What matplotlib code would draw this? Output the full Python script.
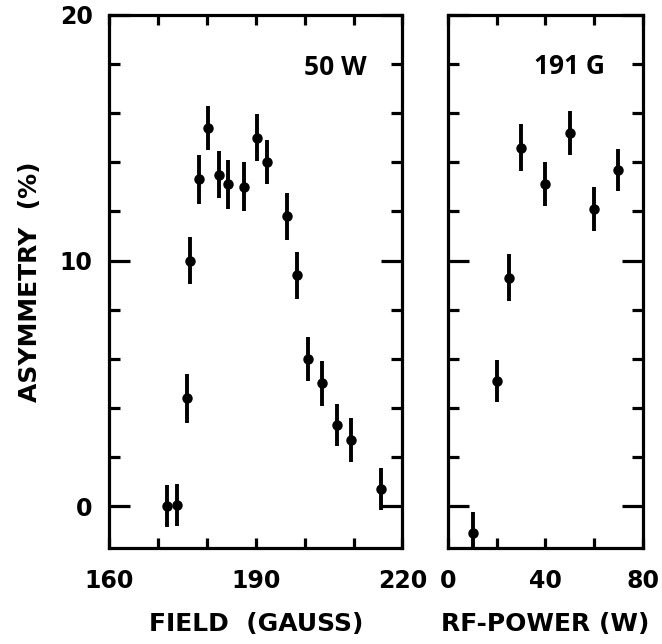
import numpy as np
import matplotlib
matplotlib.use("Agg")
import matplotlib.pyplot as plt
from matplotlib.ticker import FixedLocator

plt.rcParams['font.family'] = ['DejaVu Sans']
plt.rcParams['font.weight'] = 'bold'

# left panel: asymmetry vs field at 50 W
field = np.array([171.9, 173.8, 175.9, 176.5, 178.4, 180.3, 182.4, 184.2, 187.5,
                  190.3, 192.3, 196.4, 198.4, 200.6, 203.5, 206.6, 209.5, 215.6])
asym_field = np.array([0.0, 0.05, 4.4, 10.0, 13.3, 15.4, 13.5, 13.1, 13.0,
                       15.0, 14.0, 11.8, 9.4, 6.0, 5.0, 3.3, 2.7, 0.7])
err_field = np.array([0.85, 0.85, 1.0, 0.95, 1.0, 0.9, 0.95, 1.0, 1.0,
                      0.95, 0.9, 0.95, 0.95, 0.9, 0.9, 0.85, 0.9, 0.85])

# right panel: asymmetry vs rf-power at 191 G
power = np.array([10, 20, 25, 30, 40, 50, 60, 70])
asym_power = np.array([-1.1, 5.1, 9.3, 14.6, 13.1, 15.2, 12.1, 13.7])
err_power = np.array([0.85, 0.85, 0.95, 0.95, 0.9, 0.9, 0.9, 0.85])

fig = plt.figure(figsize=(6.62, 6.44), dpi=100)
ax1 = fig.add_axes([0.165, 0.149, 0.443, 0.828])
ax2 = fig.add_axes([0.677, 0.149, 0.294, 0.828])

for ax in (ax1, ax2):
    for s in ax.spines.values():
        s.set_linewidth(2.3)
    ax.set_ylim(-1.7, 20)
    ax.yaxis.set_major_locator(FixedLocator([0, 10, 20]))
    ax.yaxis.set_minor_locator(FixedLocator([2, 4, 6, 8, 12, 14, 16, 18]))
    ax.tick_params(axis='both', which='both', direction='in', width=2.3,
                   top=True, right=True, labelsize=17)
    ax.tick_params(axis='y', which='major', length=15)
    ax.tick_params(axis='y', which='minor', length=8)
    ax.tick_params(axis='x', which='both', length=7)

ax1.errorbar(field, asym_field, yerr=err_field, fmt='o', color='black',
             markersize=6.5, elinewidth=2.8, capsize=0)
ax1.set_xlim(160, 220)
ax1.xaxis.set_major_locator(FixedLocator([160, 190, 220]))
ax1.xaxis.set_minor_locator(FixedLocator([170, 180, 200, 210]))
ax1.set_xticklabels(['160', '190', '220'], fontweight='bold')
ax1.set_yticklabels(['0', '10', '20'], fontweight='bold')
ax1.tick_params(axis='x', pad=15)
ax1.tick_params(axis='y', pad=12)
ax1.set_xlabel('FIELD  (GAUSS)', fontsize=18, fontweight='bold', labelpad=14)
ax1.set_ylabel('ASYMMETRY  (%)', fontsize=18, fontweight='bold', labelpad=13)
ax1.text(0.878, 0.902, '50 W', transform=ax1.transAxes, ha='right', va='center',
         fontsize=19, fontweight='bold', family='Open Sans')

ax2.errorbar(power, asym_power, yerr=err_power, fmt='o', color='black',
             markersize=6.5, elinewidth=2.8, capsize=0)
ax2.set_xlim(0, 80)
ax2.xaxis.set_major_locator(FixedLocator([0, 20, 40, 60, 80]))
ax2.set_xticklabels(['0', '', '40', '', '80'], fontweight='bold')
ax2.set_yticklabels([])
ax2.tick_params(axis='x', pad=15)
ax2.set_xlabel('RF-POWER (W)', fontsize=18, fontweight='bold', labelpad=14)
ax2.text(0.805, 0.904, '191 G', transform=ax2.transAxes, ha='right', va='center',
         fontsize=19, fontweight='bold', family='Open Sans')

fig.savefig('out.png', dpi=100)
